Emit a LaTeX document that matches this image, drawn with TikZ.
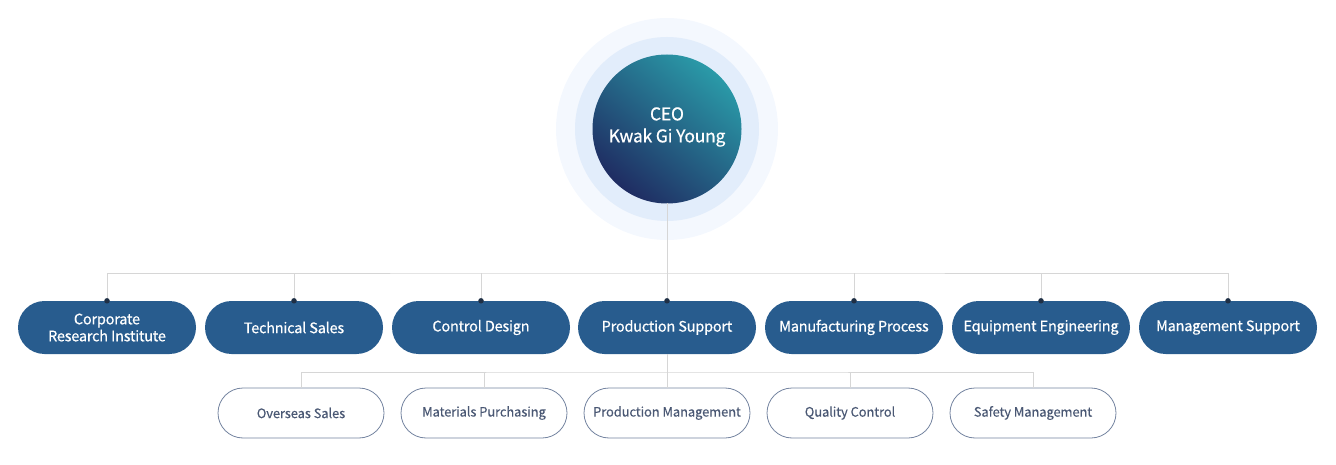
\documentclass[tikz,border=0pt]{standalone}
\usepackage{fontspec}
\setmainfont{Noto Sans CJK KR}
\newfontfamily\medfont{Noto Sans CJK KR}[FakeBold=0.5, LetterSpace=-1.5]
\newfontfamily\subfont{Noto Sans CJK KR}[FakeBold=0.15, LetterSpace=-1]
\usetikzlibrary{shapes.misc,shadings}
\definecolor{boxblue}{HTML}{285C8E}
\definecolor{dotc}{HTML}{1F2F45}
\definecolor{linec}{HTML}{D6D6D6}
\definecolor{subline}{HTML}{7484A0}
\definecolor{subtext}{HTML}{4A5874}
\definecolor{ringa}{HTML}{F4F8FE}
\definecolor{ringb}{HTML}{E2EDFB}
\definecolor{ceoteal}{HTML}{2A9AA8}
\definecolor{ceonavy}{HTML}{1F2C62}
\tikzset{
  dept/.style={rounded rectangle, fill=boxblue, minimum width=178pt, minimum height=53pt, text=white, font=\medfont\fontsize{14.5}{17}\selectfont, align=center, inner sep=0pt},
  sub/.style={rounded rectangle, draw=subline, line width=0.8pt, fill=white, minimum width=166pt, minimum height=50pt, text=subtext, font=\subfont\fontsize{13}{16}\selectfont, align=center, inner sep=0pt},
  conn/.style={draw=linec, line width=1pt},
  dot/.style={circle, fill=dotc, inner sep=0pt, minimum size=5.5pt}
}
\begin{document}
\begin{tikzpicture}[x=1pt,y=-1pt]
\useasboundingbox (0,0) rectangle (1336,465);
% circles
\fill[ringa] (667,129) circle (111);
\fill[ringb] (667,129) circle (92);
\shade[top color=ceoteal, bottom color=ceonavy, shading angle=-40] (667,129) circle (74.5);
\node[text=white, font=\medfont\fontsize{17.5}{22}\selectfont, align=center] (ceo) at (667,127) {CEO\\Kwak Gi Young};
\coordinate (ceob) at (667,203.5);
% departments
\foreach \n/\x/\t in {d1/107/{Corporate\\Research Institute}, d2/294/{Technical Sales}, d3/481/{Control Design}, d4/667/{Production Support}, d5/854/{Manufacturing Process}, d6/1041/{Equipment Engineering}, d7/1228/{Management Support}}{
  \node[dept] (\n) at (\x,327.5) {\t};
}
\foreach \n/\x/\t in {s1/301/{Overseas Sales}, s2/484/{Materials Purchasing}, s3/667/{Production Management}, s4/850/{Quality Control}, s5/1033/{Safety Management}}{
  \node[sub] (\n) at (\x,413) {\t};
}
% connectors
\coordinate (hb) at (667,273);
\draw[conn] (ceob) -- (hb);
\draw[conn] (d1.north) |- (hb) -| (d7.north);
\foreach \n in {d2,d3,d4,d5,d6}{ \draw[conn] (\n.north) -- (\n.north |- hb); }
\coordinate (sb) at (667,372);
\draw[conn] (d4.south) -- (s3.north);
\draw[conn] (s1.north) |- (sb) -| (s5.north);
\foreach \n in {s2,s4}{ \draw[conn] (\n.north) -- (\n.north |- sb); }
\foreach \n in {d1,d2,d3,d4,d5,d6,d7}{ \node[dot] at (\n.north) {}; }
\end{tikzpicture}
\end{document}
